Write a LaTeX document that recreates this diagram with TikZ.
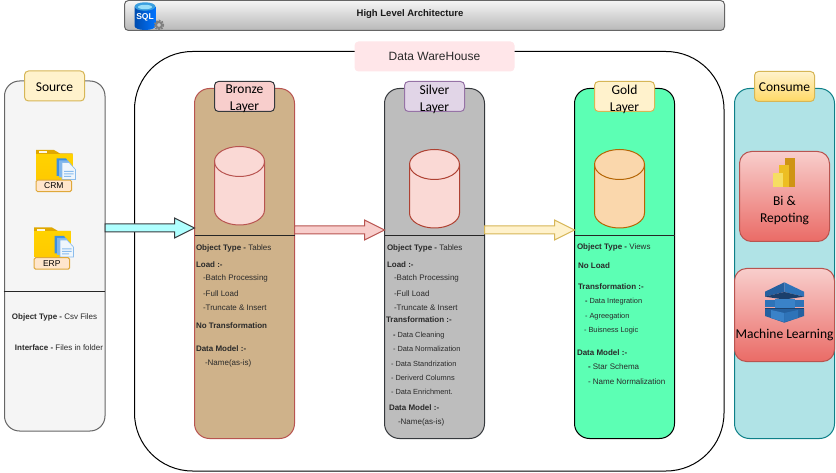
\documentclass[tikz,border=0pt]{standalone}
\usepackage{fontspec}
\usetikzlibrary{calc}
\setmainfont{Liberation Sans}
\newfontfamily\handfont{Carlito}
\definecolor{darkline}{HTML}{36393D}
\definecolor{cardred}{HTML}{B85450}
\definecolor{pinkfill}{HTML}{F8CECC}
\definecolor{redend}{HTML}{EA6B66}
\definecolor{creamfill}{HTML}{FFF2CC}
\definecolor{creamline}{HTML}{D6B656}
\definecolor{goldend}{HTML}{FFD966}
\definecolor{bronzefill}{HTML}{CFB28A}
\definecolor{silverfill}{HTML}{BDBDBD}
\definecolor{goldfill}{HTML}{5CFFB4}
\definecolor{tealfill}{HTML}{B0E3E6}
\definecolor{tealline}{HTML}{0E8088}
\definecolor{lilacfill}{HTML}{E1D5E7}
\definecolor{lilacline}{HTML}{9673A6}
\definecolor{greyfill}{HTML}{F5F5F5}
\definecolor{greyline}{HTML}{666666}
\definecolor{dwfill}{HTML}{FFE6E9}
\definecolor{folderfill}{HTML}{FFD200}
\definecolor{foldertab}{HTML}{E0A800}
\definecolor{tagfill}{HTML}{FFE6CC}
\definecolor{tagline}{HTML}{DFA83A}
\definecolor{docblue}{HTML}{3C8FE0}
\definecolor{docpale}{HTML}{D5E8FA}
\definecolor{cubeblue}{HTML}{2E73B8}
\definecolor{cubelight}{HTML}{3A82C8}
\definecolor{cubedeep}{HTML}{25609F}
\definecolor{cubedark}{HTML}{1B3F6B}
\definecolor{arrowblue}{HTML}{AFFFFF}
\definecolor{cylred}{HTML}{FAD9D5}
\definecolor{cylredline}{HTML}{AE4132}
\definecolor{cylorange}{HTML}{FAD7AC}
\definecolor{cylorangeline}{HTML}{B46504}
\definecolor{softtext}{HTML}{2A2A2A}
\definecolor{pbidark}{HTML}{CF9414}
\definecolor{pbimid}{HTML}{EDBE23}
\definecolor{pbilight}{HTML}{F6DE63}
\tikzset{
  x=1pt,y=-1pt,
  panel/.style={draw,line width=1pt,rounded corners=15pt,inner sep=0pt,outer sep=0pt},
  tag/.style={draw,line width=1pt,rounded corners=4pt,inner sep=0pt,outer sep=0pt,minimum width=60pt,minimum height=30pt},
  tagtext/.style={inner sep=0pt,outer sep=0pt,align=center,font=\handfont\fontsize{13.5}{16}\selectfont},
  lbl/.style={anchor=west,inner sep=0pt,outer sep=0pt,text=softtext,yshift=-0.7pt,font=\fontsize{8}{9}\selectfont},
  small/.style={lbl,font=\fontsize{7.4}{9}\selectfont},
  divider/.style={line width=1pt,black!85},
  blockarrow/.style={line width=1pt,to path={
    ($(\tikztostart)+(0,-4)$) -- ($(\tikztotarget)+(-20,-4)$) -- ($(\tikztotarget)+(-20,-10)$) --
    (\tikztotarget) -- ($(\tikztotarget)+(-20,10)$) -- ($(\tikztotarget)+(-20,4)$) -- ($(\tikztostart)+(0,4)$) -- cycle}},
}
\newcommand{\lbl}[4]{\node[lbl] (#1) at (#2,#3) {#4};}
\newcommand{\slbl}[4]{\node[small] (#1) at (#2,#3) {#4};}
\newcommand{\dbcyl}[4]{% left, top, fill, line
  \begin{scope}[shift={(#1,#2)}]
    \draw[fill=#3,draw=#4,line width=1pt] (0,15) -- (0,63.5) arc[x radius=25,y radius=15,start angle=180,end angle=0] -- (50,15)
      arc[x radius=25,y radius=15,start angle=0,end angle=-180] -- cycle;
    \draw[draw=#4,line width=1pt] (0,15) arc[x radius=25,y radius=15,start angle=180,end angle=0];
  \end{scope}}
\newcommand{\folderdoc}[2]{%
  \begin{scope}[shift={(#1,#2)}]
    \fill[foldertab] (0,0.5) -- (18,0.5) -- (24,4) -- (36.5,4) -- (36.5,8) -- (0,8) -- cycle;
    \shade[top color=folderfill,bottom color=folderfill!90!orange] (0,5) -- (36.5,5) -- (36.5,30) -- (0,30) -- cycle;
    \fill[white!90!foldertab] (3,2) rectangle (11,4);
    \fill[docblue] (20.5,9) -- (30,9) -- (33,13) -- (33,26.5) -- (20.5,26.5) -- cycle;
    \fill[docblue!65] (23,11) -- (32,11) -- (35,15) -- (35,28) -- (23,28) -- cycle;
    \fill[white!92!docblue,draw=docblue!60,line width=.6pt] (26,13) -- (33,13) -- (39.5,20) -- (39.5,30) -- (26,30) -- cycle;
    \fill[docpale!50!docblue] (28,21.5) rectangle (37.5,22.5) (28,24) rectangle (37.5,25) (28,26.5) rectangle (35,27.5);
  \end{scope}}
\begin{document}
\begin{tikzpicture}
\useasboundingbox (0,0) rectangle (836,473);
\fill[white] (0,0) rectangle (836,473);

% title bar
\node[draw=greyline,line width=1pt,top color=greyfill,bottom color=black!28,rounded corners=4pt,minimum width=600pt,minimum height=30pt,inner sep=0pt] (title) at (424.5,15.5) {};
\node[inner sep=0pt,text=black!90,font=\bfseries\fontsize{9.5}{12}\selectfont] (titletext) at (410,14.5) {High Level Architecture};
% SQL icon
\shade[left color=black!45!blue!70!cyan,right color=blue!55!cyan] (134.5,7) -- (134.5,26) arc[x radius=10.5,y radius=4,start angle=180,end angle=0] -- (155.5,7) -- cycle;
\fill[cyan!75!blue!80] (145,6.5) ellipse[x radius=10.5,y radius=4.2];
\fill[cyan!40] (145,7) ellipse[x radius=7,y radius=2.2];
\node[inner sep=0pt,text=white,font=\bfseries\fontsize{8.5}{10}\selectfont] (sqltext) at (145,17.5) {SQL};
\draw[black!50,line width=2pt,dash pattern=on 1.6pt off 1.2pt] (159,25) circle[radius=4.3];
\draw[black!50,line width=2pt] (159,25) circle[radius=3];

% outer containers
\node[panel,draw=greyline,fill=greyfill,minimum width=100.5pt,minimum height=350pt] (source) at (54.75,256) {};
\node[draw,line width=1pt,rounded corners=58pt,inner sep=0pt,outer sep=0pt,minimum width=589.5pt,minimum height=419.5pt] (dw) at (429.25,261.25) {};
\node[panel,draw=cardred,fill=bronzefill,minimum width=100pt,minimum height=350pt] (bronze) at (244.5,263.5) {};
\node[panel,draw=darkline,fill=silverfill,minimum width=100pt,minimum height=350pt] (silver) at (434.5,263.5) {};
\node[panel,draw=black,fill=goldfill,minimum width=100pt,minimum height=350pt] (gold) at (624.5,263.5) {};
\node[panel,draw=tealline,fill=tealfill,minimum width=100pt,minimum height=350pt] (consume) at (784.5,263.5) {};

% labels on containers
\node[tag,draw=creamline,fill=creamfill] (sourcetag) at (54.5,86) {};
\node[tagtext] (sourcetext) at (54.5,87) {Source};
\node[fill=dwfill,rounded corners=4pt,inner sep=0pt,minimum width=160pt,minimum height=30pt,text=softtext,font=\fontsize{12}{14}\selectfont] (dwtag) at (434.5,56.5) {Data WareHouse};
\node[tag,draw=darkline,fill=pinkfill] (bronzetag) at (244.5,96.5) {};
\node[tagtext] (bronzetext) at (244.5,99) {Bronze\\[1pt]Layer};
\node[tag,draw=lilacline,fill=lilacfill] (silvertag) at (434.5,96.5) {};
\node[tagtext] (silvertext) at (434.5,99) {Silver\\[1pt]Layer};
\node[tag,draw=creamline,fill=creamfill] (goldtag) at (624.5,96.5) {};
\node[tagtext] (goldtext) at (624.5,99) {Gold\\[1pt]Layer};
\node[tag,draw=creamline,top color=creamfill,bottom color=goldend] (consumetag) at (784.5,86.5) {};
\node[tagtext] (consumetext) at (784.5,87.5) {Consume};

% cylinders
\dbcyl{214.5}{146.5}{cylred}{cardred}
\dbcyl{409.5}{149.5}{cylred}{cylredline}
\dbcyl{594.5}{149.5}{cylorange}{cylorangeline}

% dividers
\draw[divider] (source.west |- 0,291.5) ++(-1,0) -- (source.east |- 0,291.5);
\draw[divider] (bronze.west |- 0,235.5) -- (bronze.east |- 0,235.5);
\draw[divider] (silver.west |- 0,235.5) -- (silver.east |- 0,235.5);
\draw[divider] (gold.west |- 0,235.5) -- (gold.east |- 0,235.5);

% arrows between layers
\coordinate (srcout) at (source.east |- 0,228);
\coordinate (brzin) at (bronze.west |- 0,228);
\coordinate (brzout) at (bronze.east |- 0,230);
\coordinate (slvin) at (silver.west |- 0,230);
\coordinate (slvout) at (silver.east |- 0,230);
\coordinate (gldin) at (gold.west |- 0,230);
\draw[blockarrow,draw=darkline,fill=arrowblue] (srcout) to (brzin);
\draw[blockarrow,draw=cardred,fill=pinkfill] (brzout) to (slvin);
\draw[blockarrow,draw=creamline,fill=creamfill] (slvout) to (gldin);

% source icons
\folderdoc{36}{149.5}
\node[draw=tagline,fill=tagfill,line width=1pt,rounded corners=1.5pt,minimum width=35.5pt,minimum height=11.5pt,inner sep=0pt,font=\fontsize{8.5}{9}\selectfont] (crm) at (53.8,185.8) {CRM};
\folderdoc{34}{227}
\node[draw=tagline,fill=tagfill,line width=1pt,rounded corners=1.5pt,minimum width=35.5pt,minimum height=11.5pt,inner sep=0pt,font=\fontsize{8.5}{9}\selectfont] (erp) at (51.8,263.5) {ERP};

% source text
\lbl{s1}{12}{317}{\textbf{Object Type - }Csv Files}
\lbl{s2}{15}{347}{\textbf{Interface - }Files in folder}

% bronze text
\lbl{b1}{196}{248}{\textbf{Object Type - }Tables}
\lbl{b2}{196}{264}{\textbf{Load :-}}
\lbl{b3}{203}{278}{-Batch Processing}
\lbl{b4}{203}{293}{-Full Load}
\lbl{b5}{203}{307}{-Truncate \& Insert}
\lbl{b6}{196}{325}{\textbf{No Transformation}}
\lbl{b7}{196}{348}{\textbf{Data Model :-}}
\lbl{b8}{205}{363}{-Name(as-is)}

% silver text
\lbl{v1}{387}{248}{\textbf{Object Type - }Tables}
\lbl{v2}{387}{264}{\textbf{Load :-}}
\lbl{v3}{394}{278}{-Batch Processing}
\lbl{v4}{394}{293}{-Full Load}
\lbl{v5}{394}{307}{-Truncate \& Insert}
\lbl{v6}{386}{319}{\textbf{Transformation :-}}
\slbl{v7}{393}{334.5}{\textbf{-} Data Cleaning}
\slbl{v8}{393}{348.5}{- Data Normalization}
\slbl{v9}{391}{363.5}{- Data Standrization}
\slbl{v10}{391}{377.5}{- Deriverd Columns}
\slbl{v11}{391}{391.5}{- Data Enrichment.}
\lbl{v12}{389}{407}{\textbf{Data Model :-}}
\lbl{v13}{398}{422}{-Name(as-is)}

% gold text
\lbl{g1}{577}{247}{\textbf{Object Type - }Views}
\lbl{g2}{578}{265}{\textbf{No Load}}
\lbl{g3}{578}{286}{\textbf{Transformation :-}}
\slbl{g4}{585}{300.5}{\textbf{-} Data Integration}
\slbl{g5}{585}{315.5}{- Agreegation}
\slbl{g6}{584}{329.5}{- Buisness Logic}
\lbl{g7}{577}{352}{\textbf{Data Model :-}}
\lbl{g8}{588}{366}{\textbf{-} Star Schema}
\lbl{g9}{588}{381}{- Name Normalization}

% consume cards
\node[draw=cardred,line width=1pt,top color=pinkfill,bottom color=redend,rounded corners=12pt,minimum width=90pt,minimum height=90pt,inner sep=0pt] (bi) at (784.5,196.5) {};
\node[draw=cardred,line width=1pt,top color=pinkfill,bottom color=redend,rounded corners=12pt,minimum width=100pt,minimum height=93pt,inner sep=0pt] (ml) at (784.5,315) {};
% Power BI icon
\fill[pbidark] (785.3,158) rectangle (795,187);
\fill[pbimid] (779.3,165) rectangle (789,187);
\fill[pbilight] (773,172.7) rectangle (783,187);
\node[tagtext] (bitext) at (784.5,211) {Bi \&\\[1pt]Repoting};
% cube icon
\fill[cubedeep] (765,291.7) -- (784.3,282.3) -- (784.3,292) -- (765,296.7) -- cycle;
\fill[cubeblue] (804,291.7) -- (784.3,282.3) -- (784.3,292) -- (804,296.7) -- cycle;
\fill[cubedark] (765,296.7) -- (784.3,292) -- (804,296.7) -- (784.3,299.5) -- cycle;
\fill[cubeblue] (765,300) rectangle (804,307.5);
\fill[cubelight] (774.5,299) rectangle (794.5,308);
\fill[cubedark] (765,308) rectangle (804,309);
\fill[cubedeep] (765,309) -- (804,309) -- (804,316) -- (784.3,322.7) -- (765,316) -- cycle;
\fill[cubelight] (771,310) -- (784.3,313) -- (784.3,322) -- (771,318) -- cycle;
\fill[cubeblue] (784.3,313) -- (798,310) -- (798,318) -- (784.3,322) -- cycle;
\node[tagtext] (mltext) at (784.5,335) {Machine Learning};
\end{tikzpicture}
\end{document}
